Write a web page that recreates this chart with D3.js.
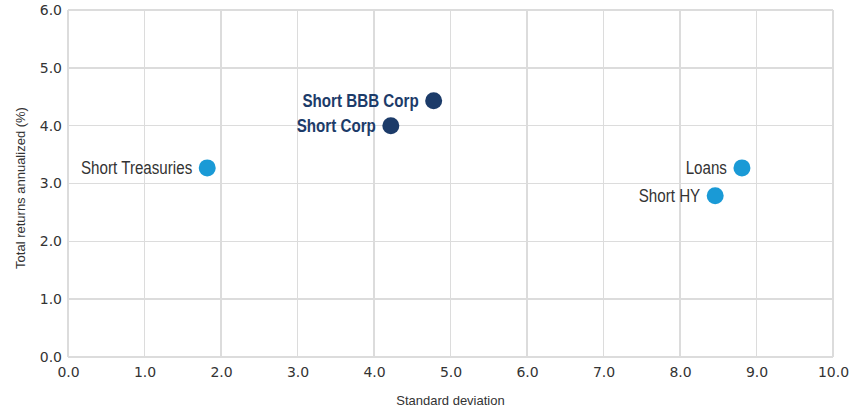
<!DOCTYPE html>
<html lang="en">
<head>
  <meta charset="UTF-8">
  <title>Risk vs return</title>
  <style>
    body { margin: 0; background: #fff; }
    .grid line { stroke: #dcdcdc; stroke-width: 1.5; shape-rendering: crispEdges; }
    .tick text { font: 14px "DejaVu Sans", sans-serif; fill: #333; }
    .axis-title { font: 13px "Liberation Sans", sans-serif; fill: #333; }
    .lbl { font-family: "Liberation Sans", sans-serif; font-size: 18.5px; fill: #333; }
    .lbl.dark { font-weight: bold; fill: #1c3b69; }
  </style>
</head>
<body>
<div id="chart"></div>
<script src="https://d3js.org/d3.v7.min.js"></script>
<script>
  const names = ["Short Treasuries", "Short Corp", "Short BBB Corp", "Loans", "Short HY"];
  const stdDev = [1.82, 4.22, 4.78, 8.81, 8.46];
  const returns = [3.27, 4.0, 4.43, 3.27, 2.79];
  const groups = ["light", "dark", "dark", "light", "light"];
  const xTicks = [0, 1, 2, 3, 4, 5, 6, 7, 8, 9, 10];
  const yTicks = [0, 1, 2, 3, 4, 5, 6];

  const width = 850, height = 410;
  const m = { left: 68, right: 17, top: 10, bottom: 53 };
  const squeeze = 0.82; // condensed look for the point labels

  const svg = d3.select('#chart').append('svg')
    .attr('width', width).attr('height', height);

  const x = d3.scaleLinear().domain([0, 10]).range([m.left, width - m.right]);
  const y = d3.scaleLinear().domain([0, 6]).range([height - m.bottom, m.top]);

  // gridlines
  const grid = svg.append('g').classed('grid', true);
  grid.selectAll('.vx').data(xTicks).enter().append('line')
    .attr('x1', d => x(d)).attr('x2', d => x(d))
    .attr('y1', y(0)).attr('y2', y(6));
  grid.selectAll('.hy').data(yTicks).enter().append('line')
    .attr('x1', x(0)).attr('x2', x(10))
    .attr('y1', d => y(d)).attr('y2', d => y(d));

  // axes (labels only)
  svg.append('g')
    .attr('transform', `translate(0,${y(0)})`)
    .call(d3.axisBottom(x).tickValues(xTicks).tickFormat(d3.format('.1f')).tickSize(0).tickPadding(10))
    .call(g => g.select('.domain').remove());
  svg.append('g')
    .attr('transform', `translate(${x(0)},0)`)
    .call(d3.axisLeft(y).tickValues(yTicks).tickFormat(d3.format('.1f')).tickSize(0).tickPadding(6))
    .call(g => g.select('.domain').remove());

  svg.append('text').classed('axis-title', true)
    .attr('x', (x(0) + x(10)) / 2).attr('y', 405)
    .attr('text-anchor', 'middle').text('Standard deviation');
  svg.append('text').classed('axis-title', true)
    .attr('transform', `translate(25,188) rotate(-90)`)
    .attr('text-anchor', 'middle').text('Total returns annualized (%)');

  const pts = names.map((n, i) => ({ name: n, sd: stdDev[i], ret: returns[i], grp: groups[i] }));

  svg.append('g').selectAll('circle').data(pts).enter().append('circle')
    .attr('cx', d => x(d.sd)).attr('cy', d => y(d.ret)).attr('r', 8.5)
    .attr('fill', d => d.grp === 'dark' ? '#1c3b69' : '#1a9ad6');

  svg.append('g').selectAll('text').data(pts).enter().append('text')
    .attr('class', d => 'lbl ' + d.grp)
    .attr('transform', d => `translate(${x(d.sd) - 15},${y(d.ret)}) scale(${squeeze},1)`)
    .attr('dy', '0.35em').attr('text-anchor', 'end')
    .text(d => d.name);
</script>
</body>
</html>
